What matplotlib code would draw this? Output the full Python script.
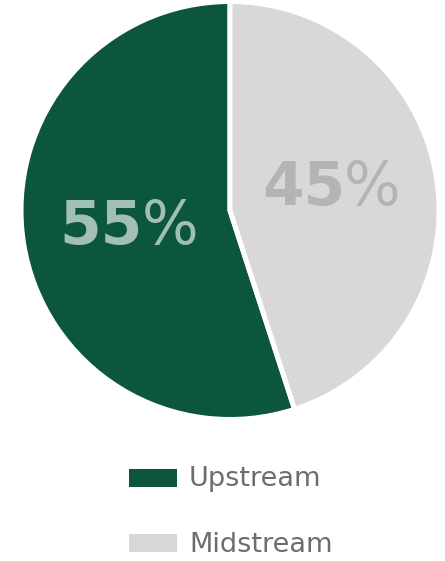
import matplotlib
matplotlib.use("Agg")
import matplotlib.pyplot as plt
import numpy as np
from matplotlib.patches import Rectangle

categories = ["Upstream", "Midstream"]
values = [55, 45]
pct_labels = ["55", "45"]
colors = ["#0c5640", "#d9d8d6"]
text_colors = ["#a2bfb4", "#b3b5b2"]

W, H = 445, 561
fig = plt.figure(figsize=(W / 100, H / 100), dpi=100)
fig.patch.set_facecolor("white")

cx, cy, r = 230, 561 - 210.5, 209
ax = fig.add_axes([(cx - r) / W, (cy - r) / H, 2 * r / W, 2 * r / H])
wedges, _ = ax.pie(values, colors=colors, startangle=90, counterclock=True,
                   radius=1.0, wedgeprops=dict(edgecolor="white", linewidth=3.6))
ax.set_xlim(-1, 1)
ax.set_ylim(-1, 1)
ax.set_aspect("auto")
ax.axis("off")

y_shift = [-1, 4]  # points
for w, lab, tc, ys in zip(wedges, pct_labels, text_colors, y_shift):
    ang = np.deg2rad((w.theta1 + w.theta2) / 2)
    x, y = 0.49 * np.cos(ang), 0.49 * np.sin(ang)
    t = ax.annotate(lab, xy=(x, y), xytext=(10, ys), textcoords="offset points",
                    ha="right", va="center", fontsize=43, fontweight="bold",
                    color=tc, family="DejaVu Sans")
    ax.annotate("%", xy=(1, 0), xycoords=t, xytext=(-1, 0), textcoords="offset points",
                ha="left", va="bottom", fontsize=43, fontweight="normal",
                color=tc, family="DejaVu Sans")

legend_y = [478, 543]
for cat, col, ly in zip(categories, colors, legend_y):
    fig.patches.append(Rectangle((129 / W, (561 - ly - 8.5) / H), 48 / W, 17.5 / H,
                                 transform=fig.transFigure, facecolor=col,
                                 edgecolor="none"))
    fig.text(189 / W, (561 - ly - 1.5) / H, cat, ha="left", va="center",
             fontsize=19.5, color="#6b6d70", family="DejaVu Sans")

fig.savefig("out.png", dpi=100, facecolor="white")
